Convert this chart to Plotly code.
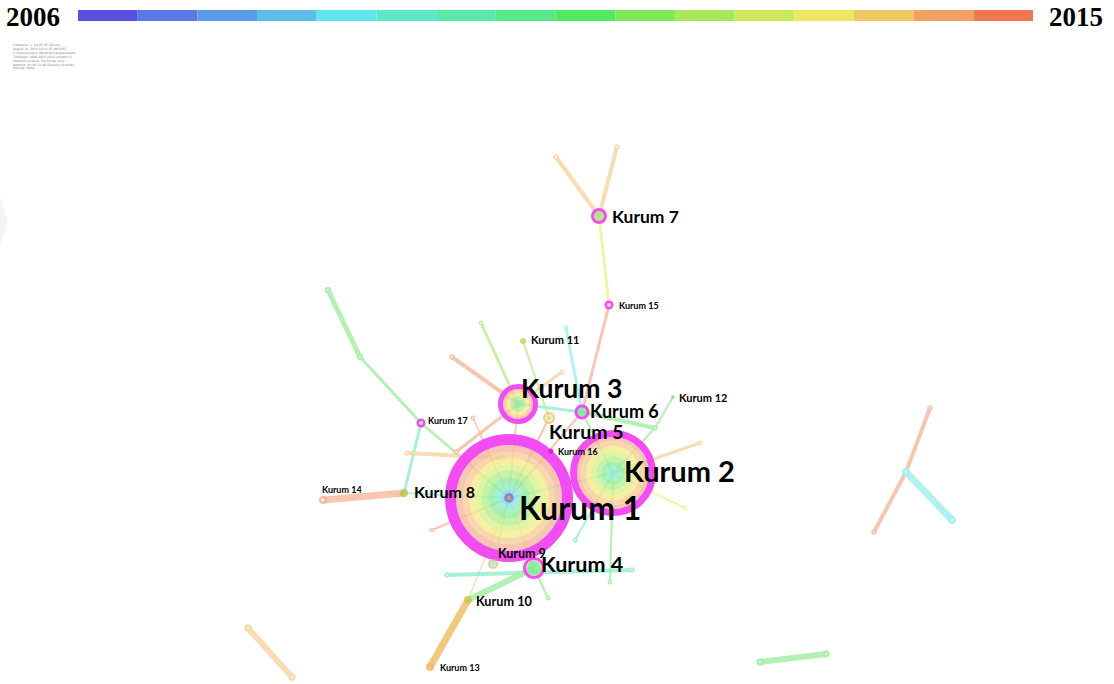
import plotly.graph_objects as go

W, H = 1114, 684

# ---------------- data ----------------
node_names = ["Kurum 1", "Kurum 2", "Kurum 3", "Kurum 4", "Kurum 5", "Kurum 6", "Kurum 7",
              "Kurum 8", "Kurum 9", "Kurum 10", "Kurum 11", "Kurum 12", "Kurum 13",
              "Kurum 14", "Kurum 15", "Kurum 16", "Kurum 17",
              "n1", "n2", "n3", "n4", "n5", "n6", "n7", "n8", "n9", "n10", "n11", "n12",
              "n13", "n14", "n15", "n16", "n17", "n18", "n19", "n20", "n21", "n22", "n23",
              "n24", "n25", "n26", "n27", "n28", "n29"]
node_x = [509, 613, 518, 534, 549, 582, 599, 404, 493, 468, 523, 673, 430, 323, 609, 551, 421,
          556, 617, 328, 360, 452, 481, 566, 562, 700, 685, 610, 575, 447, 632, 548, 407, 503,
          655, 432, 248, 292, 760, 826, 930, 906, 874, 952, 473, 456]
node_y = [498, 473, 404, 568, 418, 412, 216, 493, 564, 600, 341, 397, 667, 500, 305, 451, 423,
          157, 147, 290, 357, 357, 323, 328, 372, 443, 508, 582, 540, 575, 570, 598, 453, 458,
          428, 530, 628, 677, 662, 654, 408, 472, 532, 520, 418, 452]

label_names = ["Kurum 1", "Kurum 2", "Kurum 3", "Kurum 4", "Kurum 5", "Kurum 6", "Kurum 7",
               "Kurum 8", "Kurum 9", "Kurum 10", "Kurum 11", "Kurum 12", "Kurum 13",
               "Kurum 14", "Kurum 15", "Kurum 16", "Kurum 17"]
label_x = [518, 623, 520, 540, 548, 589, 611, 413, 497, 475, 530, 678, 439, 321, 618, 557, 427]
label_y = [507, 470, 388, 564, 431, 411, 216, 491, 553, 601, 339, 397, 667, 489, 305, 451, 420]
label_size = [32, 29, 26.5, 21.5, 19.5, 18, 17.5, 16, 12.5, 12.7, 11, 11, 9, 9, 9, 9, 9]

# edges: source, target, colour key, width
edge_src = ["Kurum 7", "Kurum 7", "Kurum 7", "Kurum 15", "n3", "n4", "Kurum 17", "Kurum 17",
            "Kurum 14", "Kurum 8", "n16", "n5", "n6", "Kurum 3", "Kurum 3", "Kurum 3", "Kurum 3",
            "n28", "Kurum 11", "n7", "Kurum 6", "Kurum 12", "n18", "Kurum 6", "Kurum 5",
            "Kurum 16", "Kurum 2", "Kurum 2", "Kurum 2", "Kurum 2", "Kurum 1", "Kurum 1",
            "Kurum 1", "Kurum 1", "Kurum 1", "n13", "Kurum 4", "Kurum 4", "Kurum 10",
            "n20", "n22", "n24", "n25", "n25", "Kurum 1", "Kurum 1"]
edge_dst = ["n1", "n2", "Kurum 15", "Kurum 6", "n4", "Kurum 17", "Kurum 1", "Kurum 8",
            "Kurum 8", "Kurum 1", "n17", "Kurum 3", "Kurum 3", "n8", "Kurum 6", "Kurum 1", "n29",
            "Kurum 1", "Kurum 5", "Kurum 6", "n18", "n18", "Kurum 2", "Kurum 2", "Kurum 1",
            "Kurum 1", "n9", "n10", "n11", "n12", "Kurum 2", "Kurum 9",
            "Kurum 10", "Kurum 4", "n19", "n14", "Kurum 10", "n15", "Kurum 13",
            "n21", "n23", "n25", "n26", "n27", "Kurum 6", "Kurum 3"]
edge_color = ["orange", "orange", "yellow", "salmon", "green", "green", "green", "aqua",
              "salmon", "cyan", "orange", "salmon", "lime", "orange", "aqua", "green", "salmon",
              "salmon", "lime", "cyan", "green", "green", "green", "green", "salmon",
              "orange", "orange", "yellow", "green", "aqua", "aqua", "green",
              "orange", "orange", "salmon", "aqua", "green", "green", "gold",
              "orange", "green", "salmon", "salmon", "cyan", "salmon", "orange"]
edge_width = [4, 4, 3, 3, 5, 3, 2.5, 3,
              7, 2, 4, 4, 3, 3, 3, 1.5, 3,
              1.5, 2, 3, 4, 2, 2, 2, 2,
              1.5, 3, 2, 2, 2, 2, 1.5,
              1.5, 1.5, 2, 4, 6, 2, 7,
              6, 6, 4, 4, 7, 2, 2]

palette = {"blue": "#a8a8f0", "cyan": "#b0f2f4", "aqua": "#a8f0d8", "green": "#b2f0b4",
           "lime": "#c8f0a4", "yellow": "#f4f4a8", "orange": "#f8dcb4", "gold": "#f2c880",
           "salmon": "#f8c6b0"}

# tree rings per node: (inner radius, outer radius, colour)
rings = {
    "Kurum 1": [(0, 2, "#c8b858"), (2, 5, "#8c8ce8"), (5, 8, "#a0e4f2"), (8, 14, "#a4f0d6"),
                (14, 21, "#a8f0b6"), (21, 28, "#c6f2a6"), (28, 34, "#e2f4a2"), (34, 40, "#f6eea2"),
                (40, 46, "#f8d8aa"), (46, 53, "#f6c6b2"), (53, 64, "#f24cf2")],
    "Kurum 2": [(0, 7, "#a4f0d6"), (7, 12, "#a8f0b6"), (12, 17, "#c6f2a6"), (17, 22, "#e2f4a2"),
                (22, 27, "#f6eea2"), (27, 32, "#f8d8aa"), (32, 36, "#f6c6b2"), (36, 43, "#f24cf2")],
    "Kurum 3": [(0, 5, "#a8f0b6"), (5, 8, "#c6f2a6"), (8, 11, "#f6eea2"), (11, 13, "#f8d8aa"),
                (13, 15, "#f6c6b2"), (15, 20, "#f24cf2")],
    "Kurum 4": [(0, 7, "#8ef0a6"), (7, 8, "#f6c6b2"), (8, 11, "#f24cf2")],
    "Kurum 5": [(0, 2, "#a8f0b6"), (2, 4, "#f6eea2"), (4, 6, "#f2c890")],
    "Kurum 6": [(0, 4.5, "#8ef0a6"), (4.5, 7.5, "#f24cf2")],
    "Kurum 7": [(0, 5, "#b8e890"), (5, 8, "#f24cf2")],
    "Kurum 8": [(0, 4, "#c8d070")],
    "Kurum 9": [(0, 3, "#b4f0e0"), (3, 5, "#f2c890")],
    "Kurum 10": [(0, 4, "#d6d274")],
    "Kurum 11": [(0, 3, "#c8e080")],
    "Kurum 12": [(0, 2, "#a8e8a0")],
    "Kurum 13": [(0, 4, "#f2c87c")],
    "Kurum 14": [(0, 1.5, "#ffffff"), (1.5, 4, "#f6c0a8")],
    "Kurum 15": [(0, 2, "#fbe0fb"), (2, 4.5, "#f24cf2")],
    "Kurum 16": [(0, 2.5, "#e040e0")],
    "Kurum 17": [(0, 2, "#c8f0c8"), (2, 4.5, "#f24cf2")],
}

years = ["2006", "2015"]
bar_colors = ["#5a50e0", "#5a78e6", "#5a9ae6", "#5cbde8", "#60e6ee", "#5ee8c8", "#5ce8a8",
              "#58e888", "#52e860", "#7ee85a", "#a6e85a", "#cce85e", "#eee860", "#f0c862",
              "#f0a060", "#f07850"]
info_lines = ["CiteSpace, v. 4.0.R5 SE (64-bit)",
              "August 24, 2016 10:14:15 AM EEST",
              "C:\\Users\\kullanici\\Desktop\\citespace\\data",
              "Timespan: 2006-2015 (Slice Length=1)",
              "Selection Criteria: Top 50 per slice",
              "Network: N=46, E=46 (Density=0.0444)",
              "Pruning: None"]

# ---------------- helpers ----------------
pos = {n: (x, y) for n, x, y in zip(node_names, node_x, node_y)}


def rgba(hexc, a):
    h = hexc.lstrip("#")
    t = [int(h[i:i + 2], 16) for i in (0, 2, 4)]
    b = [max(0, min(255, round((c - (1 - a) * 255) / a))) for c in t]
    return f"rgba({b[0]},{b[1]},{b[2]},{a})"


fig = go.Figure()

# edges
for s, d, c, w in zip(edge_src, edge_dst, edge_color, edge_width):
    (x0, y0), (x1, y1) = pos[s], pos[d]
    fig.add_trace(go.Scatter(x=[x0, x1], y=[y0, y1], mode="lines",
                             line=dict(color=rgba(palette[c], 0.8), width=w),
                             hoverinfo="skip"))

# anchor (unlabelled) node markers
anchor_style = {}
for s, d, c, w in zip(edge_src, edge_dst, edge_color, edge_width):
    for n in (s, d):
        if n not in label_names:
            if n not in anchor_style or anchor_style[n][1] < w:
                anchor_style[n] = (c, w)
for n, (c, w) in anchor_style.items():
    x, y = pos[n]
    fig.add_trace(go.Scatter(x=[x], y=[y], mode="markers",
                             marker=dict(size=max(w + 1.5, 5), color=rgba(palette[c], 0.9),
                                         line=dict(width=0)), hoverinfo="skip"))
    fig.add_trace(go.Scatter(x=[x], y=[y], mode="markers",
                             marker=dict(size=2, color="rgba(255,255,255,0.8)", line=dict(width=0)),
                             hoverinfo="skip"))

# tree-ring nodes
for name, rl in rings.items():
    x, y = pos[name]
    for r_in, r_out, col in rl:
        a = 0.95 if col == "#f24cf2" else 0.8
        fig.add_trace(go.Scatter(x=[x], y=[y], mode="markers",
                                 marker=dict(size=r_in + r_out, color="rgba(0,0,0,0)",
                                             line=dict(width=r_out - r_in, color=rgba(col, a))),
                                 hoverinfo="skip"))

# labels
for t, x, y, s in zip(label_names, label_x, label_y, label_size):
    fig.add_annotation(x=x, y=y, text=t, showarrow=False, xanchor="left", yanchor="middle",
                       font=dict(family="Lato", size=s, color="#000000", weight="bold"),
                       borderpad=0)

# colour bar
bar_x0, bar_x1, bar_y0, bar_y1 = 78, 1033, 10, 21
seg = (bar_x1 - bar_x0) / len(bar_colors)
for i, c in enumerate(bar_colors):
    fig.add_shape(type="rect", x0=bar_x0 + i * seg, x1=bar_x0 + (i + 1) * seg,
                  y0=bar_y0, y1=bar_y1, fillcolor=c, line=dict(width=0), layer="below")
fig.add_annotation(x=bar_x0 - 16, y=(bar_y0 + bar_y1) / 2 + 1, text=years[0], showarrow=False,
                   xanchor="right", yanchor="middle",
                   font=dict(family="Liberation Serif", size=27, color="#000", weight="bold"))
fig.add_annotation(x=bar_x1 + 14, y=(bar_y0 + bar_y1) / 2 + 1, text=years[1], showarrow=False,
                   xanchor="left", yanchor="middle",
                   font=dict(family="Liberation Serif", size=27, color="#000", weight="bold"))

# info text
fig.add_annotation(x=10, y=41, text="<br>".join(info_lines), showarrow=False, xanchor="left",
                   yanchor="top", align="left",
                   font=dict(family="DejaVu Sans", size=3, color="#808080"))

# faint wedge at the left border
fig.add_shape(type="path", path="M0,196 L8,221 L0,247 Z", fillcolor="#f4f4f4",
              line=dict(width=0), layer="below")

fig.update_layout(width=W, height=H, margin=dict(l=0, r=0, t=0, b=0),
                  paper_bgcolor="white", plot_bgcolor="white", showlegend=False,
                  xaxis=dict(range=[0, W], visible=False, fixedrange=True),
                  yaxis=dict(range=[H, 0], visible=False, fixedrange=True))

fig.write_html("out.html", config={"displayModeBar": False},
               post_script="document.body.style.margin='0';")
